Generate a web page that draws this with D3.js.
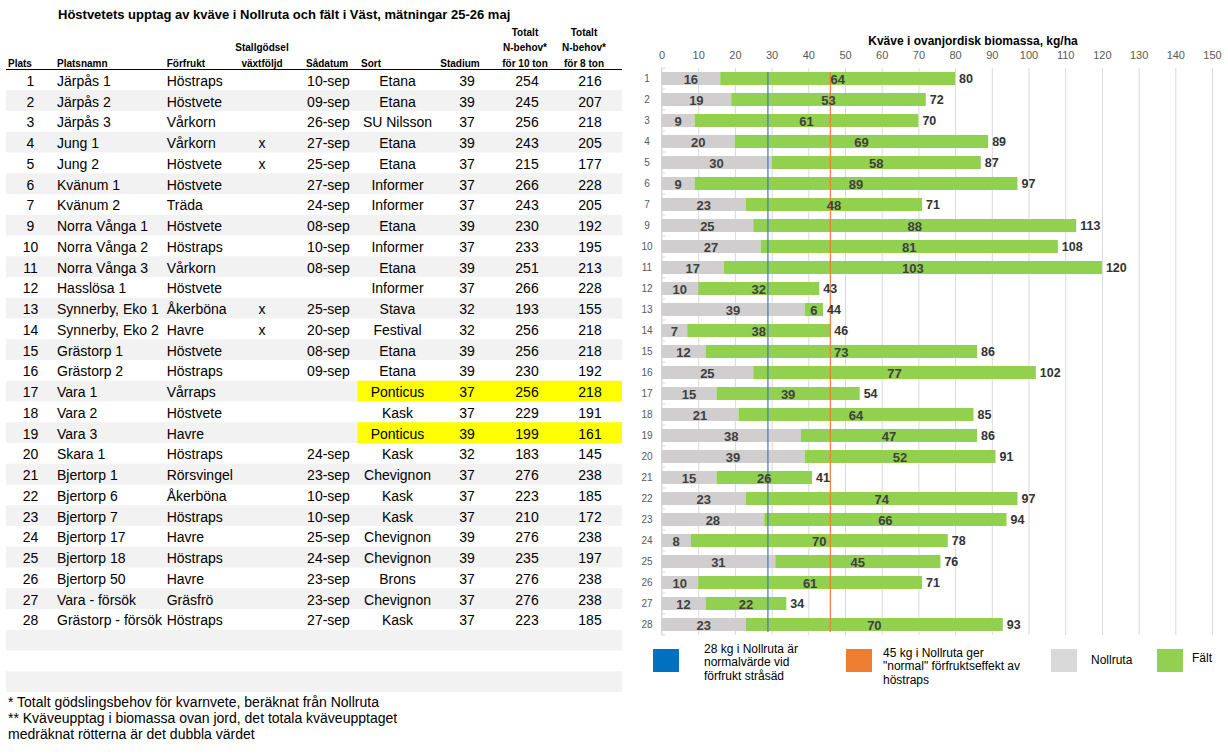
<!DOCTYPE html>
<html lang="sv">
<head>
<meta charset="UTF-8">
<title>Höstvetets upptag av kväve</title>
<script src="https://d3js.org/d3.v7.min.js"></script>
<style>
  body { margin: 0; background: #fff; }
  svg text { font-family: "Liberation Sans", Arial, sans-serif; }
</style>
</head>
<body>
<div id="chart"></div>
<script>

// ---- data ----
var plats = [1, 2, 3, 4, 5, 6, 7, 9, 10, 11, 12, 13, 14, 15, 16, 17, 18, 19, 20, 21, 22, 23, 24, 25, 26, 27, 28];
var platsnamn = ["Järpås 1", "Järpås 2", "Järpås 3", "Jung 1", "Jung 2", "Kvänum 1", "Kvänum 2",
  "Norra Vånga 1", "Norra Vånga 2", "Norra Vånga 3", "Hasslösa 1", "Synnerby, Eko 1", "Synnerby, Eko 2",
  "Grästorp 1", "Grästorp 2", "Vara 1", "Vara 2", "Vara 3", "Skara 1", "Bjertorp 1", "Bjertorp 6",
  "Bjertorp 7", "Bjertorp 17", "Bjertorp 18", "Bjertorp 50", "Vara - försök", "Grästorp - försök"];
var forfrukt = ["Höstraps", "Höstvete", "Vårkorn", "Vårkorn", "Höstvete", "Höstvete", "Träda",
  "Höstvete", "Höstraps", "Vårkorn", "Höstvete", "Åkerböna", "Havre", "Höstvete", "Höstraps",
  "Vårraps", "Höstvete", "Havre", "Höstraps", "Rörsvingel", "Åkerböna", "Höstraps", "Havre",
  "Höstraps", "Havre", "Gräsfrö", "Höstraps"];
var stallgodsel = ["", "", "", "x", "x", "", "", "", "", "", "", "x", "x", "", "", "", "", "", "", "", "", "", "", "", "", "", ""];
var sadatum = ["10-sep", "09-sep", "26-sep", "27-sep", "25-sep", "27-sep", "24-sep", "08-sep", "10-sep",
  "08-sep", "", "25-sep", "20-sep", "08-sep", "09-sep", "", "", "", "24-sep", "23-sep", "10-sep",
  "10-sep", "25-sep", "24-sep", "23-sep", "23-sep", "27-sep"];
var sort = ["Etana", "Etana", "SU Nilsson", "Etana", "Etana", "Informer", "Informer", "Etana", "Informer",
  "Etana", "Informer", "Stava", "Festival", "Etana", "Etana", "Ponticus", "Kask", "Ponticus", "Kask",
  "Chevignon", "Kask", "Kask", "Chevignon", "Chevignon", "Brons", "Chevignon", "Kask"];
var stadium = [39, 39, 37, 39, 37, 37, 37, 39, 37, 39, 37, 32, 32, 39, 39, 37, 37, 39, 32, 37, 37, 37, 39, 39, 37, 37, 37];
var nbehov10 = [254, 245, 256, 243, 215, 266, 243, 230, 233, 251, 266, 193, 256, 256, 230, 256, 229, 199, 183, 276, 223, 210, 276, 235, 276, 276, 223];
var nbehov8 = [216, 207, 218, 205, 177, 228, 205, 192, 195, 213, 228, 155, 218, 218, 192, 218, 191, 161, 145, 238, 185, 172, 238, 197, 238, 238, 185];
var markerade = [17, 19];

var nollruta = [16, 19, 9, 20, 30, 9, 23, 25, 27, 17, 10, 39, 7, 12, 25, 15, 21, 38, 39, 15, 23, 28, 8, 31, 10, 12, 23];
var falt = [64, 53, 61, 69, 58, 89, 48, 88, 81, 103, 32, 6, 38, 73, 77, 39, 64, 47, 52, 26, 74, 66, 70, 45, 61, 22, 70];
var totalt = [80, 72, 70, 89, 87, 97, 71, 113, 108, 120, 43, 44, 46, 86, 102, 54, 85, 86, 91, 41, 97, 94, 78, 76, 71, 34, 93];
var referens = [29, 46];
var xTicks = d3.range(0, 151, 10);

var legendTexts = [
  ["28 kg i Nollruta är", "normalvärde vid", "förfrukt stråsäd"],
  ["45 kg i Nollruta ger", "\"normal\" förfruktseffekt av", "höstraps"],
  ["Nollruta"],
  ["Fält"]
];
var footnotes = [
  "* Totalt gödslingsbehov för kvarnvete, beräknat från Nollruta",
  "** Kväveupptag i biomassa ovan jord, det totala kväveupptaget",
  "medräknat rötterna är det dubbla värdet"
];

// ---- svg ----
var svg = d3.select("#chart").append("svg")
  .attr("width", 1228)
  .attr("height", 755);

// ================= table =================
var nRows = plats.length + 3;   // three empty rows at the bottom
var rowY = d3.scaleLinear().domain([0, 1]).range([69.5, 90.25]);
var rowH = rowY(1) - rowY(0);

var table = svg.append("g");

// stripes
table.selectAll("rect.stripe")
  .data(d3.range(nRows).filter(function(i) { return i % 2 == 1; }))
  .enter().append("rect")
    .attr("class", "stripe")
    .attr("x", 6)
    .attr("width", 616)
    .attr("y", function(i) { return rowY(i); })
    .attr("height", rowH)
    .attr("fill", "#f2f2f2");

// yellow cells
table.selectAll("rect.mark")
  .data(markerade)
  .enter().append("rect")
    .attr("x", 357.5)
    .attr("width", 264.5)
    .attr("y", function(p) { return rowY(plats.indexOf(p)); })
    .attr("height", rowH)
    .attr("fill", "#ffff00");

table.append("text")
  .attr("x", 58).attr("y", 14).attr("dy", "0.35em")
  .style("font-size", "13px").style("font-weight", "bold")
  .text("Höstvetets upptag av kväve i Nollruta och fält i Väst, mätningar 25-26 maj");

// header
var header = [
  {x: 8, a: "start", lines: ["Plats"]},
  {x: 57, a: "start", lines: ["Platsnamn"]},
  {x: 166.7, a: "start", lines: ["Förfrukt"]},
  {x: 262, a: "middle", lines: ["Stallgödsel", "växtföljd"]},
  {x: 306, a: "start", lines: ["Sådatum"]},
  {x: 361, a: "start", lines: ["Sort"]},
  {x: 460, a: "middle", lines: ["Stadium"]},
  {x: 525, a: "middle", lines: ["Totalt", "N-behov*", "för 10 ton"]},
  {x: 584, a: "middle", lines: ["Totalt", "N-behov*", "för 8 ton"]}
];
header.forEach(function(h) {
  var n = h.lines.length;
  h.lines.forEach(function(t, j) {
    table.append("text")
      .attr("x", h.x)
      .attr("y", 63 - (n - 1 - j) * 15.5)
      .attr("dy", "0.35em")
      .attr("text-anchor", h.a)
      .style("font-size", "10px").style("font-weight", "bold")
      .text(t);
  });
});
table.append("line")
  .attr("x1", 6).attr("x2", 622)
  .attr("y1", 69.5).attr("y2", 69.5)
  .attr("stroke", "#000").attr("stroke-width", 1);

// body
var cols = [
  {x: 30.5, a: "middle", v: plats},
  {x: 57, a: "start", v: platsnamn},
  {x: 166.7, a: "start", v: forfrukt},
  {x: 262, a: "middle", v: stallgodsel},
  {x: 328.5, a: "middle", v: sadatum},
  {x: 397.5, a: "middle", v: sort},
  {x: 467, a: "middle", v: stadium},
  {x: 527, a: "middle", v: nbehov10},
  {x: 590, a: "middle", v: nbehov8}
];
cols.forEach(function(c) {
  table.append("g").selectAll("text")
    .data(c.v)
    .enter().append("text")
      .attr("x", c.x)
      .attr("y", function(d, i) { return rowY(i) + rowH / 2 + 1; })
      .attr("dy", "0.35em")
      .attr("text-anchor", c.a)
      .style("font-size", "14px")
      .attr("fill", "#000")
      .text(function(d) { return d; });
});

// footnotes
table.selectAll("text.foot")
  .data(footnotes)
  .enter().append("text")
    .attr("x", 8)
    .attr("y", function(d, i) { return 702 + i * 16; })
    .attr("dy", "0.35em")
    .style("font-size", "14px")
    .text(function(d) { return d; });

// ================= chart =================
var x = d3.scaleLinear().domain([0, 150]).range([661.5, 1212]);
var y = d3.scaleBand()
  .domain(plats.map(String))
  .range([68, 635])
  .paddingInner(0.38)
  .paddingOuter(0.19);

var chart = svg.append("g");

chart.append("text")
  .attr("x", 973).attr("y", 41).attr("dy", "0.35em")
  .attr("text-anchor", "middle")
  .style("font-size", "12px").style("font-weight", "bold")
  .text("Kväve i ovanjordisk biomassa, kg/ha");

// grid
var grid = chart.append("g")
  .attr("transform", "translate(0,68)")
  .call(d3.axisTop(x).tickValues(xTicks).tickSize(-567).tickFormat(""));
grid.select(".domain").remove();
grid.selectAll("line").attr("stroke", "#d9d9d9");

// top tick labels
var xAxisTop = chart.append("g")
  .attr("transform", "translate(0,59)")
  .call(d3.axisTop(x).tickValues(xTicks).tickSize(0).tickPadding(0));
xAxisTop.select(".domain").remove();
xAxisTop.selectAll("text")
  .attr("fill", "#595959")
  .style("font-size", "11px")
  .style("font-family", "'Liberation Sans', Arial, sans-serif");

// left axis with ticks at band edges
chart.append("line")
  .attr("x1", x(0)).attr("x2", x(0))
  .attr("y1", 68).attr("y2", 635)
  .attr("stroke", "#d9d9d9");
chart.selectAll("line.ytick")
  .data(d3.range(plats.length + 1))
  .enter().append("line")
    .attr("x1", x(0)).attr("x2", x(0) + 4)
    .attr("y1", function(i) { return 68 + i * y.step(); })
    .attr("y2", function(i) { return 68 + i * y.step(); })
    .attr("stroke", "#d9d9d9");
chart.selectAll("text.cat")
  .data(plats)
  .enter().append("text")
    .attr("x", 647)
    .attr("y", function(d) { return y(String(d)) + y.bandwidth() / 2; })
    .attr("dy", "0.35em")
    .attr("text-anchor", "middle")
    .attr("fill", "#595959")
    .style("font-size", "10px")
    .text(function(d) { return d; });

// bars
chart.selectAll("rect.noll")
  .data(plats)
  .enter().append("rect")
    .attr("x", x(0))
    .attr("y", function(d) { return y(String(d)); })
    .attr("height", y.bandwidth())
    .attr("width", function(d, i) { return x(nollruta[i]) - x(0); })
    .attr("fill", "#d0cece");
chart.selectAll("rect.falt")
  .data(plats)
  .enter().append("rect")
    .attr("x", function(d, i) { return x(nollruta[i]); })
    .attr("y", function(d) { return y(String(d)); })
    .attr("height", y.bandwidth())
    .attr("width", function(d, i) { return x(totalt[i]) - x(nollruta[i]); })
    .attr("fill", "#92d050");

// reference lines
var refColor = ["#4472c4", "#ed7d31"];
chart.selectAll("line.ref")
  .data(referens)
  .enter().append("line")
    .attr("x1", function(d) { return x(d); })
    .attr("x2", function(d) { return x(d); })
    .attr("y1", 72).attr("y2", 632)
    .attr("stroke", function(d, i) { return refColor[i]; })
    .attr("stroke-width", 1.2);

// labels
function cy(d) { return y(String(d)) + y.bandwidth() / 2 + 0.5; }
chart.selectAll("text.nl")
  .data(plats)
  .enter().append("text")
    .attr("x", function(d, i) { return x(nollruta[i] / 2); })
    .attr("y", cy).attr("dy", "0.35em")
    .attr("text-anchor", "middle")
    .attr("fill", "#404040")
    .style("font-size", "13px").style("font-weight", "bold")
    .text(function(d, i) { return nollruta[i]; });
chart.selectAll("text.fl")
  .data(plats)
  .enter().append("text")
    .attr("x", function(d, i) { return x((nollruta[i] + totalt[i]) / 2); })
    .attr("y", cy).attr("dy", "0.35em")
    .attr("text-anchor", "middle")
    .attr("fill", "#404040")
    .style("font-size", "13px").style("font-weight", "bold")
    .text(function(d, i) { return falt[i]; });
chart.selectAll("text.tl")
  .data(plats)
  .enter().append("text")
    .attr("x", function(d, i) { return x(totalt[i]) + 4; })
    .attr("y", cy).attr("dy", "0.35em")
    .attr("fill", "#333")
    .style("font-size", "12.5px").style("font-weight", "bold")
    .text(function(d, i) { return totalt[i]; });

// legend
var legendPos = [
  {sx: 653, tx: 704, ty: 648.5, color: "#0070c0"},
  {sx: 846, tx: 883, ty: 652.5, color: "#ed7d31"},
  {sx: 1051, tx: 1091, ty: 660, color: "#d9d9d9"},
  {sx: 1157, tx: 1192, ty: 658, color: "#92d050"}
];
var leg = chart.selectAll("g.leg")
  .data(legendTexts)
  .enter().append("g");
leg.append("rect")
  .attr("x", function(d, i) { return legendPos[i].sx; })
  .attr("y", 649)
  .attr("width", 26)
  .attr("height", 23)
  .attr("fill", function(d, i) { return legendPos[i].color; });
leg.each(function(lines, i) {
  var g = d3.select(this);
  lines.forEach(function(t, j) {
    g.append("text")
      .attr("x", legendPos[i].tx)
      .attr("y", legendPos[i].ty + j * 13.5)
      .attr("dy", "0.35em")
      .attr("fill", "#000")
      .style("font-size", "12px")
      .text(t);
  });
});

</script>
</body>
</html>
